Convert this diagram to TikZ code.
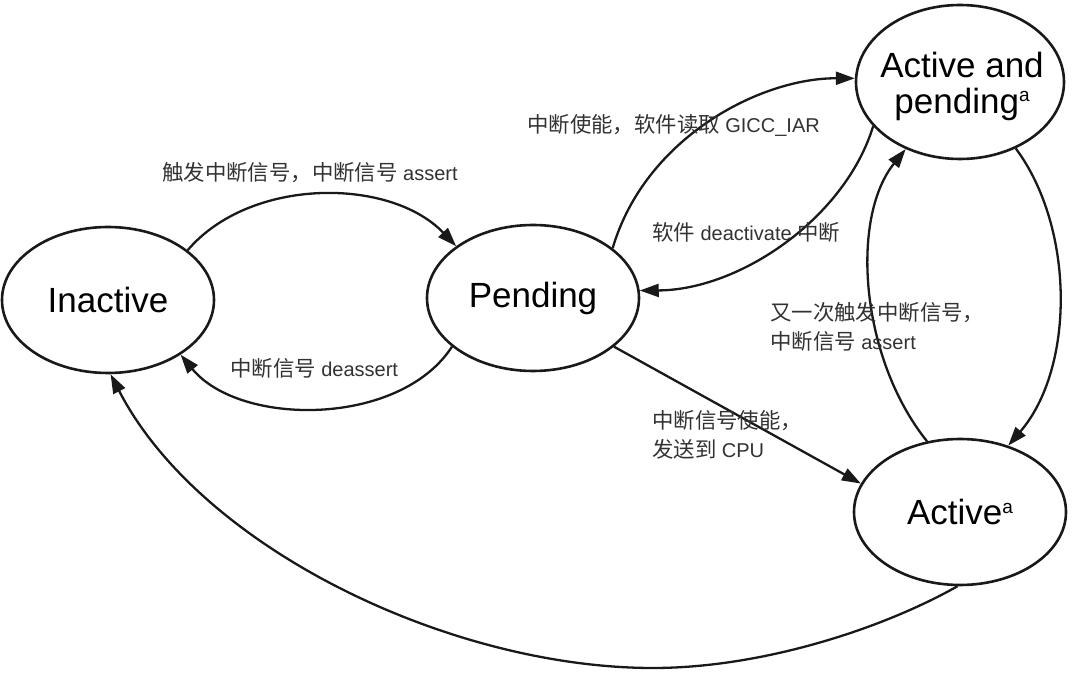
\documentclass[tikz,border=0pt]{standalone}
\usepackage{fontspec}
\setmainfont{Liberation Sans}
\newfontfamily\cjk[Scale=1.07]{Noto Sans CJK SC}
\usetikzlibrary{arrows.meta,shapes.geometric}
\definecolor{txtgray}{RGB}{50,50,50}
\definecolor{linec}{RGB}{25,25,25}
\begin{document}
\begin{tikzpicture}[x=1pt,y=1pt,
  statebox/.style={ellipse, draw=linec, line width=2.6pt, inner sep=0pt, font=\fontsize{35}{38}\selectfont, text=black},
  edgearrow/.style={draw=linec, line width=2.3pt, -{Triangle[length=19pt,width=13pt]}},
  lbl/.style={font=\fontsize{20}{29}\selectfont, text=txtgray, inner sep=0pt, anchor=west, align=left}]
\useasboundingbox (0,0) rectangle (1080,678);
% states
\node[statebox, minimum width=212pt, minimum height=146pt] (I) at (108,378) {Inactive};
\node[statebox, minimum width=212pt, minimum height=146pt] (P) at (533,380) {\raisebox{-3pt}{Pending}};
\node[statebox, minimum width=208pt, minimum height=154pt] (AP) at (960,596) {};
\node[font=\fontsize{35}{36}\selectfont, align=center, inner sep=0pt] (APt) at (962,592) {Active and\\pending\raisebox{0.32em}{\fontsize{19}{19}\selectfont a}};
\node[statebox, minimum width=212pt, minimum height=146pt] (A) at (960,166) {Active\raisebox{0.32em}{\fontsize{19}{19}\selectfont a}};
% edges
\draw[edgearrow] (I.32) .. controls (250,501) and (390,501) .. (P.146);
\draw[edgearrow] (P.211) .. controls (400,251) and (240,251) .. (I.-37);
\draw[edgearrow] (P.32) .. controls (645,540) and (760,600) .. (AP.178);
\draw[edgearrow] (AP.207) .. controls (845,460) and (740,388) .. (P.4);
\draw[edgearrow] (P.-31) -- (A.164);
\draw[edgearrow] (A.115) .. controls (860,320) and (850,460) .. (AP.231);
\draw[edgearrow] (AP.-50) .. controls (1075,450) and (1075,310) .. (A.54);
\draw[edgearrow] (A.-92) .. controls (880,48) and (760,10) .. (653,10) .. controls (450,10) and (200,130) .. (I.-88);
% labels
\node[lbl] (l1) at (162,505) {{\cjk 触发中断信号，中断信号} assert};
\node[lbl] (l2) at (230,310) {{\cjk 中断信号} deassert};
\node[lbl] (l3) at (527,553) {{\cjk 中断使能，软件读取} GICC\_IAR};
\node[lbl] (l4) at (652,446) {{\cjk 软件} deactivate {\cjk 中断}};
\node[lbl] (l5) at (652,243) {{\cjk 中断信号使能，}\\{\cjk 发送到} CPU};
\node[lbl] (l6) at (770,351) {{\cjk 又一次触发中断信号，}\\{\cjk 中断信号} assert};
\end{tikzpicture}
\end{document}
